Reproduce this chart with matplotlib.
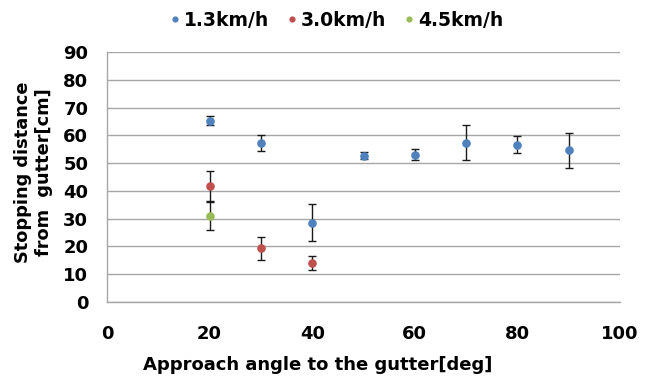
import matplotlib
matplotlib.use("Agg")
import matplotlib.pyplot as plt

plt.rcParams['font.family'] = ['DejaVu Sans']
plt.rcParams['font.weight'] = 'bold'

x_13 = [20, 30, 40, 50, 60, 70, 80, 90]
y_13 = [65.3, 57.3, 28.6, 52.7, 53.0, 57.4, 56.7, 54.6]
e_13 = [1.6, 2.8, 6.8, 1.2, 2.0, 6.3, 3.2, 6.2]

x_30 = [20, 30, 40]
y_30 = [41.6, 19.3, 14.1]
e_30 = [5.5, 4.2, 2.6]

x_45 = [20]
y_45 = [31.1]
e_45 = [5.3]

series = [
    ("1.3km/h", x_13, y_13, e_13, "#4F81BD"),
    ("3.0km/h", x_30, y_30, e_30, "#C0504D"),
    ("4.5km/h", x_45, y_45, e_45, "#9BBB59"),
]

fig = plt.figure(figsize=(6.48, 3.78), dpi=100)
ax = fig.add_axes([107/648, 1-302/378, (620-107)/648, (302-52)/378])

for label, xs, ys, es, c in series:
    ax.errorbar(xs, ys, yerr=es, fmt='none', ecolor='#1a1a1a', elinewidth=1.0,
                capsize=2.8, capthick=1.0, zorder=2)
    ax.plot(xs, ys, 'o', color=c, markersize=6.2, label=label, zorder=3,
            markeredgewidth=0)

ax.set_xlim(0, 100)
ax.set_ylim(0, 90)
ax.set_xticks(range(0, 101, 20))
ax.set_yticks(range(0, 91, 10))
ax.grid(axis='y', color='#a6a6a6', linewidth=1.0)
ax.set_axisbelow(True)
for s in ['top', 'right']:
    ax.spines[s].set_visible(False)
for s in ['left', 'bottom']:
    ax.spines[s].set_color('#a6a6a6')
    ax.spines[s].set_linewidth(1.0)
ax.tick_params(axis='both', length=0, labelsize=13)
ax.tick_params(axis='x', pad=16.5)
ax.tick_params(axis='y', pad=13.5)
for t in ax.get_xticklabels() + ax.get_yticklabels():
    t.set_fontweight('bold')

fig.text(317.5/648, 1 - 365/378, "Approach angle to the gutter[deg]", fontsize=13,
         fontweight='bold', ha='center', va='center')
fig.text(33.5/648, 1 - 172/378, "Stopping distance\nfrom  gutter[cm]", fontsize=12.8,
         fontweight='bold', ha='center', va='center', rotation=90, linespacing=1.2,
         multialignment='center')

leg = fig.legend(loc='center', bbox_to_anchor=(0.519, 1 - 20/378), ncol=3, frameon=False,
                 handletextpad=0.2, columnspacing=0.9, markerscale=0.72,
                 handlelength=0.6, borderaxespad=0, borderpad=0,
                 prop={'weight': 'bold', 'size': 13.5})

fig.savefig("out.png", dpi=100)
